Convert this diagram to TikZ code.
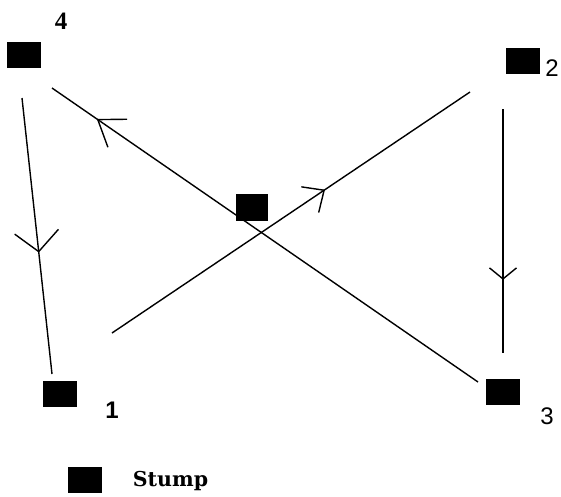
\documentclass[tikz,border=0pt]{standalone}
\usepackage{fontspec}
\setmainfont{Liberation Serif}
\newfontfamily\numfont{Liberation Sans}
\newfontfamily\lblfont{DejaVu Serif}
\usetikzlibrary{arrows.meta,decorations.markings}
\begin{document}
\begin{tikzpicture}[x=1pt,y=-1pt,
  stump/.style={fill=black,draw=none,minimum width=34pt,minimum height=26pt,inner sep=0pt},
  num/.style={inner sep=0pt,font=\numfont\fontsize{24}{24}\selectfont},
  link/.style n args={3}{line width=1.4pt,postaction={decorate},
    decoration={markings,mark=at position #1 with {\arrow{Straight Barb[length=#2pt,width=#3pt,line width=1.4pt]}}}}]
\useasboundingbox (0,0) rectangle (561,496);
% stumps
\node[stump] (s4) at (24,55) {};
\node[stump] (s2) at (523,61) {};
\node[stump] (s1) at (59.5,393.5) {};
\node[stump] (s3) at (503,391.5) {};
\node[stump,minimum width=32pt,minimum height=27pt] (sc) at (252,207.5) {};
\node[stump] (sl) at (85,480) {};
% labels
\node[inner sep=0pt,font=\bfseries\fontsize{25}{25}\selectfont] (l4) at (61,21.5) {4};
\node[num] (l2) at (552,68) {2};
\node[num,font=\numfont\bfseries\fontsize{24}{24}\selectfont] (l1) at (112,410) {1};
\node[num] (l3) at (547,416) {3};
\node[inner sep=0pt,anchor=base,font=\lblfont\bfseries\fontsize{20.5}{20.5}\selectfont] (ll) at (170.5,486.5) {Stump};
% line end points
\coordinate (a41) at (22,98);   \coordinate (b41) at (52,374);
\coordinate (a23) at (503,109); \coordinate (b23) at (503,353);
\coordinate (a12) at (112,333); \coordinate (b12) at (470,92);
\coordinate (a34) at (478,382); \coordinate (b34) at (52,88);
% connectors
\draw[link={0.56}{20}{44}] (a41) -- (b41);
\draw[link={0.70}{11}{27}] (a23) -- (b23);
\draw[link={0.595}{17}{31}] (a12) -- (b12);
\draw[link={0.895}{24}{34}] (a34) -- (b34);
\end{tikzpicture}
\end{document}
